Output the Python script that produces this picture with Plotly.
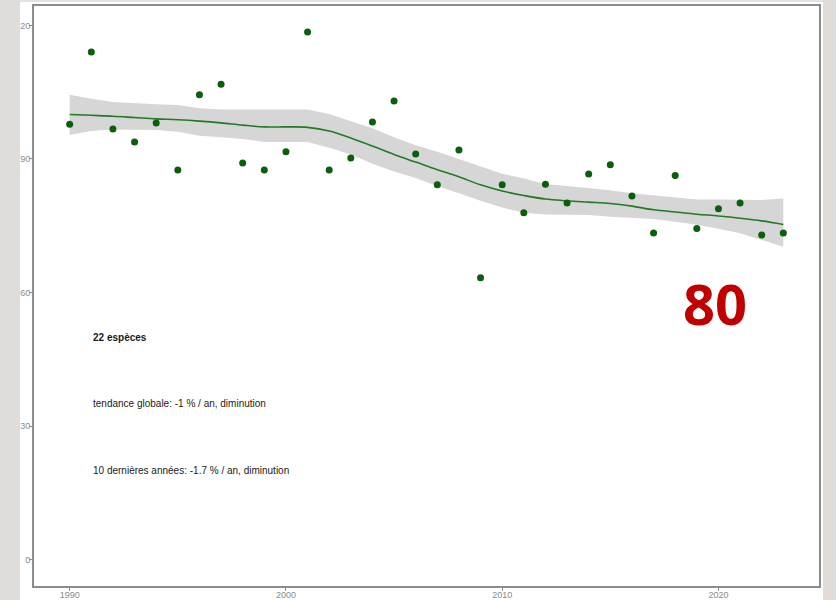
import plotly.graph_objects as go

years = list(range(1990, 2024))
index_values = [97.8, 114.0, 96.7, 93.8, 98.1, 87.5, 104.4, 106.8, 89.1, 87.5,
                91.6, 118.5, 87.5, 90.2, 98.3, 103.0, 91.1, 84.2, 92.0, 63.3,
                84.2, 77.9, 84.3, 80.1, 86.6, 88.7, 81.7, 73.4, 86.3, 74.4,
                78.8, 80.1, 72.9, 73.4]
fit_values = [100.0, 99.8, 99.6, 99.3, 99.0, 98.8, 98.5, 98.1, 97.6, 97.2,
              97.2, 97.1, 96.3, 94.7, 92.9, 91.0, 89.3, 87.6, 86.0, 84.2,
              82.8, 81.8, 81.0, 80.6, 80.3, 80.0, 79.4, 78.6, 78.1, 77.6,
              77.2, 76.7, 76.1, 75.3]
upper_values = [104.4, 103.5, 102.8, 102.5, 102.3, 102.1, 101.4, 101.1, 101.1, 101.1,
                101.1, 101.1, 100.1, 98.5, 96.9, 94.9, 93.1, 91.6, 90.0, 88.4,
                86.7, 85.6, 84.4, 83.9, 83.5, 83.0, 82.3, 81.8, 81.3, 80.9,
                80.9, 80.9, 80.8, 81.1]
lower_values = [95.4, 96.3, 96.6, 96.5, 96.5, 96.1, 95.2, 94.9, 94.5, 93.8,
                93.8, 93.8, 92.5, 91.0, 88.9, 87.2, 85.7, 83.9, 82.3, 80.6,
                79.1, 77.9, 77.5, 77.4, 77.4, 77.0, 76.8, 76.5, 75.9, 75.2,
                74.3, 73.3, 71.8, 70.3]

x_ticks = [1990, 2000, 2010, 2020]
y_ticks = [0, 30, 60, 90, 120]
y_tick_labels = ["0", "30", "60", "90", "120"]

notes = ["<b>22 espèces</b>",
         "tendance globale: -1 % / an, diminution",
         "10 dernières années: -1.7 % / an, diminution"]
note_y = [50, 35, 20]
note_x = 1991
badge = "80"

fig = go.Figure()
fig.add_trace(go.Scatter(x=years, y=upper_values, mode="lines",
                         line=dict(width=0), hoverinfo="skip", showlegend=False))
fig.add_trace(go.Scatter(x=years, y=lower_values, mode="lines",
                         line=dict(width=0), fill="tonexty",
                         fillcolor="#d6d6d6", hoverinfo="skip", showlegend=False))
fig.add_trace(go.Scatter(x=years, y=fit_values, mode="lines",
                         line=dict(color="#237a23", width=1.6, shape="spline"),
                         showlegend=False))
fig.add_trace(go.Scatter(x=years, y=index_values, mode="markers",
                         marker=dict(color="#0b5e0b", size=7), showlegend=False))

for t, yv in zip(notes, note_y):
    fig.add_annotation(x=note_x, y=yv, xref="x", yref="y", text=t, showarrow=False,
                       xanchor="left", yanchor="middle",
                       font=dict(family="Liberation Sans, Arial", size=10, color="#1a1a1a"))

W, H = 836, 600
L, R, T, B = 34, 17, 6, 14
pw, ph = W - L - R, H - T - B


def px_x(p):
    return (p - L) / pw


def px_y(p):
    return (H - B - p) / ph


fig.add_annotation(x=px_x(715), y=px_y(303), xref="paper", yref="paper", text=badge,
                   showarrow=False, xanchor="center", yanchor="middle",
                   font=dict(family="Open Sans", size=56, color="#c00000", weight="bold"))

# slide background strips
fig.add_shape(type="rect", xref="paper", yref="paper", layer="above",
              x0=px_x(0), x1=px_x(20), y0=px_y(600), y1=px_y(0),
              fillcolor="#dfdcd9", line=dict(width=0))
fig.add_shape(type="rect", xref="paper", yref="paper", layer="above",
              x0=px_x(823), x1=px_x(836), y0=px_y(600), y1=px_y(0),
              fillcolor="#dfdcd9", line=dict(width=0))
fig.add_shape(type="rect", xref="paper", yref="paper", layer="above",
              x0=px_x(20), x1=px_x(823), y0=px_y(2), y1=px_y(0),
              fillcolor="#e4e2e0", line=dict(width=0))

axis_common = dict(showgrid=False, zeroline=False, showline=True, mirror=True,
                   linecolor="#8c8c8c", linewidth=2, ticks="outside", ticklen=3,
                   tickcolor="#8c8c8c", tickwidth=1, automargin=False,
                   tickfont=dict(family="Liberation Sans, Arial", size=9, color="#8a8a8a"))

fig.update_xaxes(range=[1988.35, 2024.65], tickvals=x_ticks, ticklabelstandoff=-4,
                 **axis_common)
fig.update_yaxes(range=[-5.9, 124.35], tickvals=y_ticks, ticktext=y_tick_labels,
                 ticklabelstandoff=-3, **axis_common)

fig.update_layout(width=W, height=H, margin=dict(l=L, r=R, t=T, b=B),
                  paper_bgcolor="white", plot_bgcolor="white", showlegend=False)

fig.write_html("out.html", config={"displayModeBar": False},
               post_script="document.body.style.margin='0px';document.body.style.overflow='hidden';")
